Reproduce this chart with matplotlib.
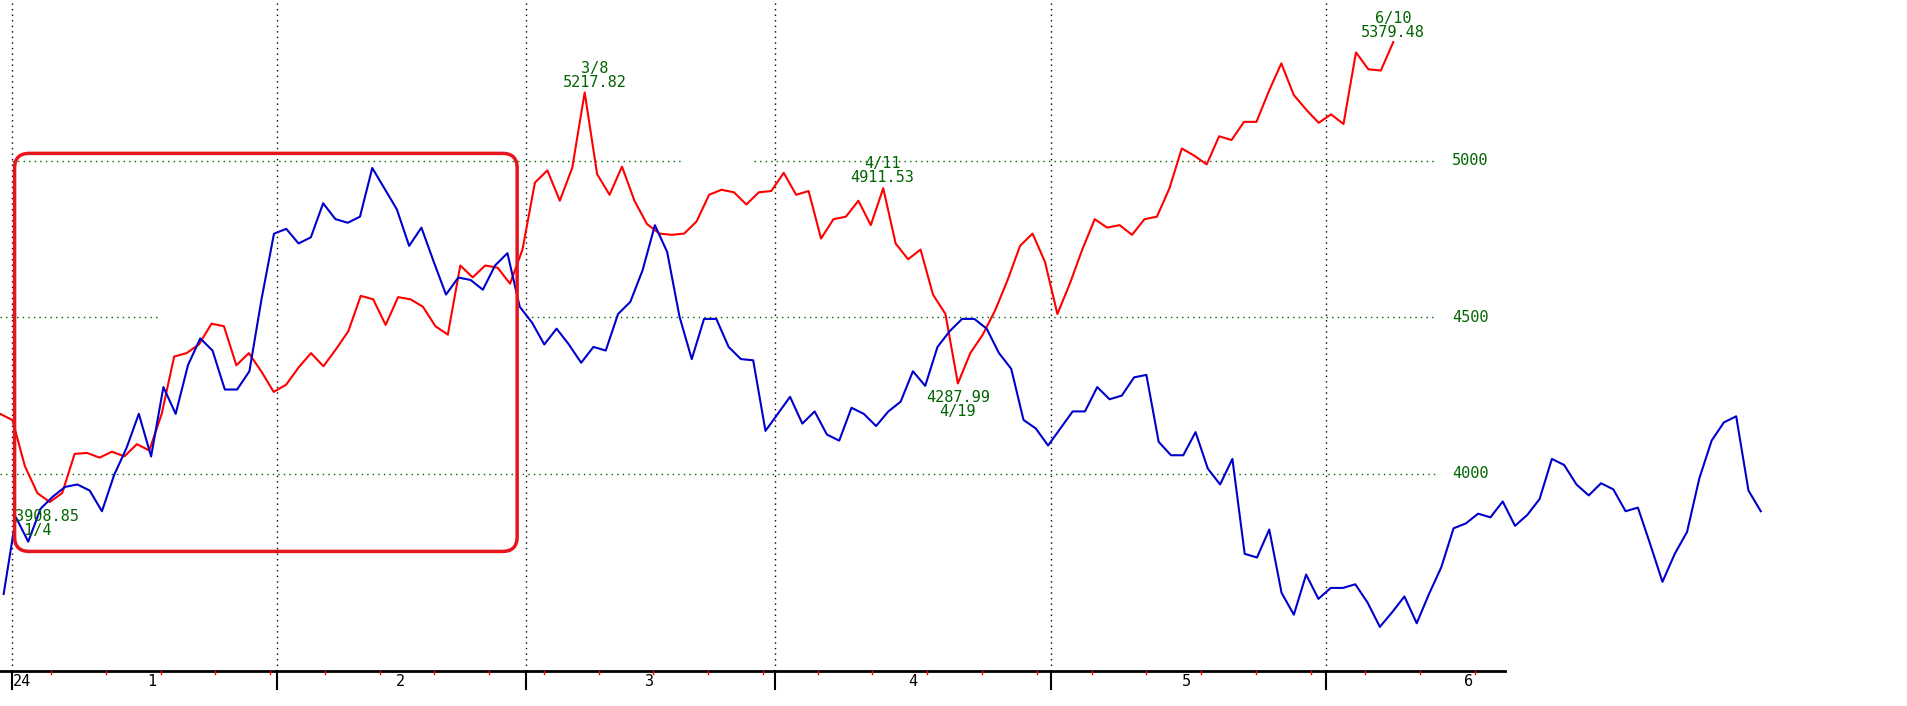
import numpy as np
import matplotlib.pyplot as plt
from matplotlib.patches import FancyBboxPatch

# red index (price), one value per trading day, late Dec -> 6/10
red_vals = [4191, 4171, 4024, 3938, 3909, 3938, 4063, 4066, 4051, 4070, 4055, 4094, 4074,
            4191, 4374, 4385, 4413, 4479, 4471, 4346, 4385, 4327, 4261, 4284, 4339, 4385,
            4343, 4397, 4455, 4568, 4557, 4475, 4564, 4557, 4533, 4471, 4444, 4665, 4627,
            4665, 4658, 4607, 4716, 4930, 4969, 4872, 4977, 5218, 4957, 4891, 4981, 4872,
            4798, 4767, 4763, 4767, 4806, 4891, 4907, 4899, 4860, 4899, 4903, 4961, 4891,
            4903, 4751, 4813, 4821, 4872, 4794, 4912, 4735, 4685, 4716, 4572, 4510, 4288,
            4385, 4444, 4522, 4619, 4728, 4767, 4677, 4510, 4607, 4716, 4813, 4786, 4794,
            4763, 4813, 4821, 4911, 5039, 5016, 4988, 5078, 5066, 5124, 5124, 5222, 5311,
            5210, 5163, 5121, 5148, 5117, 5346, 5292, 5288, 5379]

# blue series has no scale on the chart: relative level
blue_vals = [112, 175, 155, 182, 192, 200, 202, 197, 180, 210, 232, 260, 225, 282, 260,
             300, 322, 312, 280, 280, 295, 355, 408, 412, 400, 405, 433, 420, 417, 422,
             462, 445, 428, 398, 413, 385, 358, 372, 370, 362, 382, 392, 348, 335, 317,
             330, 317, 302, 315, 312, 342, 352, 378, 415, 393, 340, 305, 338, 338, 315,
             305, 304, 246, 260, 274, 252, 262, 243, 238, 265, 260, 250, 262, 270, 295,
             283, 315, 328, 338, 338, 330, 310, 297, 255, 248, 234, 248, 262, 262, 282,
             272, 275, 290, 292, 237, 226, 226, 245, 215, 202, 223, 145, 142, 165, 113,
             95, 128, 108, 117, 117, 120, 105, 85, 97, 110, 88, 112, 134, 166, 170, 178,
             175, 188, 168, 177, 190, 223, 218, 202, 193, 203, 198, 180, 183, 153, 122,
             145, 163, 207, 238, 253, 258, 197, 180]

month_labels = ["24", "1", "2", "3", "4", "5", "6"]
month_bounds = [10, 228, 432, 637, 864, 1090]
grid_levels = [5000, 4500, 4000]

annots = [("3/8\n5217.82", 489, 62), ("4/11\n4911.53", 725, 140),
          ("4287.99\n4/19", 787, 332), ("6/10\n5379.48", 1145, 21)]

GREEN = "#006400"
W, H = 1568, 580
fig = plt.figure(figsize=(19.08, 7.06), dpi=100)

ax = fig.add_axes([0, (H - 551) / H, 1237 / W, 551 / H])
ax.set_xlim(0, 1237)
ax.set_ylim(5000 - (551 - 132) * 3.89, 5000 + 132 * 3.89)
for s in ["top", "left", "right"]:
    ax.spines[s].set_visible(False)
ax.spines["bottom"].set_linewidth(2)
ax.set_xticks([])
ax.set_yticks([])

# month boundary lines
for xb in month_bounds:
    ax.axvline(xb, color="black", ls=(0, (1, 3)), lw=1)

# horizontal dotted levels
dot = dict(color=GREEN, ls=(0, (1, 3)), lw=1)
ax.hlines([5000, 5000], [10, 620], [560, 1180], **dot)
ax.hlines([4500, 4500], [0, 432], [130, 1180], **dot)
ax.hlines([4000], [0], [1180], **dot)

red_x = np.linspace(0, 1145, len(red_vals))
ax.plot(red_x, red_vals, color="red", lw=1.5, zorder=3)

ax2 = ax.twinx()
ax2.set_ylim(600 - 551, 600)
ax2.axis("off")
blue_x = np.linspace(3, 1447, len(blue_vals))
ax2.plot(blue_x, blue_vals, color="#0000cc", lw=1.5, clip_on=False, zorder=3)

# overlay in picture units for texts and box
ov = fig.add_axes([0, 0, 1, 1], facecolor="none")
ov.set_xlim(0, W)
ov.set_ylim(H, 0)
ov.axis("off")

box = FancyBboxPatch((12 + 12, 126 + 12), 413 - 24, 327 - 24,
                     boxstyle="round,pad=12", fill=False, ec="#e8141c", lw=2.5)
ov.add_patch(box)

font = dict(family="DejaVu Sans Mono", fontsize=11, color=GREEN, linespacing=0.9)
for txt, x, y in annots:
    ov.text(x, y, txt, ha="center", va="center", **font)
ov.text(12, 430, "3908.85\n 1/4", ha="left", va="center", **font)
for lv in grid_levels:
    ov.text(1208, 132 + (5000 - lv) / 3.89, str(lv), ha="center", va="center", **font)

# bottom axis ticks and labels
for xb in month_bounds:
    ov.plot([xb, xb], [551, 566], color="black", lw=1.5)
for xt in np.arange(42, 1237, 45):
    ov.plot([xt, xt], [551, 554], color="red", lw=1)
for lab, x in zip(month_labels, [18, 125, 329, 534, 750, 975, 1207]):
    ov.text(x, 560, lab, ha="center", va="center", family="DejaVu Sans Mono", fontsize=11)

fig.savefig("out.png", dpi=100)
